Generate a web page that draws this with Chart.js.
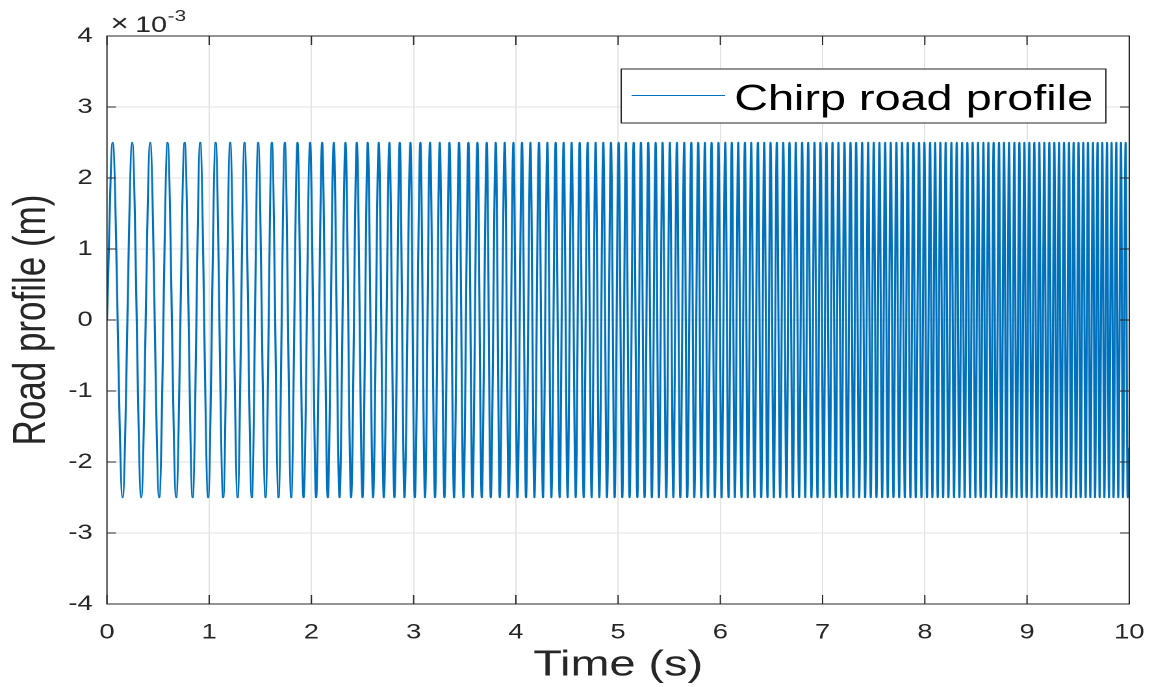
<!DOCTYPE html>
<html>
<head>
<meta charset="utf-8">
<script src="https://cdn.jsdelivr.net/npm/chart.js@4/dist/chart.umd.min.js"></script>
<style>
  html, body { margin: 0; padding: 0; background: #fff; overflow: hidden; }
  /* the figure is horizontally stretched, so draw narrow and scale it out */
  #wrap { position: absolute; left: 0; top: 0; width: 888px; height: 687px;
          transform: scaleX(1.2995); transform-origin: 0 0; }
</style>
</head>
<body>
<div id="wrap"><canvas id="chirp" width="888" height="687" style="width:888px;height:687px"></canvas></div>
<script>
// time of each crest / trough (s)
var peakTimes = [0.056,0.247,0.423,0.593,0.760,0.912,1.063,1.205,1.346,1.479,1.613,1.740,1.864,1.987,2.105,2.219,2.333,2.444,2.551,2.659,2.763,2.864,2.969,3.066,3.160,3.255,3.350,3.444,3.536,3.624,3.715,3.803,3.891,3.976,4.060,4.142,4.226,4.308,4.389,4.467,4.545,4.624,4.702,4.780,4.855,4.930,5.005,5.076,5.152,5.223,5.295,5.367,5.435,5.506,5.575,5.647,5.716,5.784,5.849,5.914,5.982,6.048,6.112,6.175,6.240,6.302,6.367,6.429,6.491,6.552,6.615,6.676,6.738,6.800,6.859,6.921,6.979,7.038,7.097,7.155,7.214,7.273,7.328,7.387,7.446,7.501,7.556,7.612,7.667,7.722,7.778,7.833,7.889,7.944,7.996,8.052,8.101,8.152,8.204,8.260,8.312,8.365,8.416,8.468,8.521,8.573,8.622,8.673,8.726,8.775,8.824,8.876,8.925,8.974,9.022,9.071,9.120,9.169,9.218,9.267,9.313,9.362,9.411,9.456,9.504,9.550,9.596,9.645,9.690,9.736,9.782,9.827,9.873,9.919,9.964];
var troughTimes = [0.153,0.335,0.511,0.677,0.838,0.990,1.137,1.278,1.417,1.551,1.678,1.802,1.923,2.046,2.160,2.275,2.388,2.500,2.603,2.708,2.812,2.910,3.011,3.111,3.209,3.301,3.395,3.487,3.575,3.666,3.754,3.842,3.930,4.015,4.099,4.181,4.265,4.347,4.428,4.506,4.585,4.663,4.741,4.816,4.891,4.966,5.041,5.112,5.188,5.259,5.330,5.399,5.471,5.540,5.608,5.676,5.745,5.813,5.878,5.946,6.012,6.080,6.142,6.207,6.269,6.334,6.400,6.461,6.523,6.585,6.647,6.709,6.771,6.830,6.891,6.950,7.009,7.070,7.129,7.185,7.243,7.302,7.358,7.416,7.471,7.527,7.583,7.637,7.693,7.749,7.804,7.859,7.911,7.967,8.021,8.074,8.126,8.179,8.231,8.286,8.338,8.390,8.443,8.495,8.546,8.595,8.648,8.697,8.749,8.798,8.850,8.898,8.947,8.996,9.045,9.098,9.143,9.192,9.241,9.289,9.335,9.384,9.430,9.479,9.524,9.573,9.619,9.665,9.710,9.756,9.801,9.846,9.892,9.938,9.984];
var amplitude = 2.5e-3;   // m
var startValue = 0;       // at t = 0
var endValue = -1.8e-3;   // at t = 10

var xTickLabels = ['0','1','2','3','4','5','6','7','8','9','10'];
var yTickLabels = ['-4','-3','-2','-1','0','1','2','3','4'];

var seriesName = 'Chirp road profile';
var blue = '#0072BD';
var dark = '#262626';
var font = "'Liberation Sans', Arial, Helvetica, sans-serif";

// crests and troughs merged in time order
var profile = peakTimes.map(function(t){ return {x: t, y: amplitude}; })
  .concat(troughTimes.map(function(t){ return {x: t, y: -amplitude}; }))
  .sort(function(a, b){ return a.x - b.x; });
profile.unshift({x: 0, y: startValue});
profile.push({x: 10, y: endValue});

// box, inward ticks, legend and the x10^-3 factor, matlab style
var matlabAxes = {
  id: 'matlabAxes',
  afterDatasetsDraw: function(chart) {
    var ctx = chart.ctx, a = chart.chartArea;
    var xs = chart.scales.x, ys = chart.scales.y;
    ctx.save();
    ctx.strokeStyle = dark;
    ctx.lineWidth = 1;
    ctx.strokeRect(a.left, a.top, a.right - a.left, a.bottom - a.top);
    ctx.beginPath();
    xs.ticks.forEach(function(t){
      var px = xs.getPixelForValue(t.value);
      ctx.moveTo(px, a.bottom); ctx.lineTo(px, a.bottom - 9);
      ctx.moveTo(px, a.top); ctx.lineTo(px, a.top + 9);
    });
    ys.ticks.forEach(function(t){
      var py = ys.getPixelForValue(t.value);
      ctx.moveTo(a.left, py); ctx.lineTo(a.left + 7, py);
      ctx.moveTo(a.right, py); ctx.lineTo(a.right - 7, py);
    });
    ctx.stroke();

    // legend
    ctx.fillStyle = '#fff';
    ctx.fillRect(478, 69, 373, 54);
    ctx.strokeStyle = dark;
    ctx.strokeRect(478, 69, 373, 54);
    ctx.strokeStyle = blue;
    ctx.beginPath();
    ctx.moveTo(486, 95.5); ctx.lineTo(558, 95.5);
    ctx.stroke();
    ctx.fillStyle = '#000';
    ctx.font = '36px ' + font;
    ctx.textBaseline = 'alphabetic';
    ctx.textAlign = 'left';
    ctx.fillText(seriesName, 565, 110);

    // exponent
    ctx.fillStyle = dark;
    ctx.font = '24px ' + font;
    ctx.fillText('\u00d7', 85, 31);
    ctx.font = '22px ' + font;
    ctx.fillText('10', 104, 32);
    ctx.font = '16px ' + font;
    ctx.fillText('-3', 129, 21);
    ctx.restore();
  }
};

new Chart(document.getElementById('chirp'), {
  type: 'line',
  data: {
    datasets: [{
      label: seriesName,
      data: profile,
      borderColor: blue,
      borderWidth: 1.6,
      pointRadius: 0,
      fill: false,
      cubicInterpolationMode: 'monotone'
    }]
  },
  options: {
    responsive: false,
    devicePixelRatio: 2,
    animation: false,
    layout: { padding: { top: 36, right: 19, left: 0, bottom: 0 } },
    plugins: { legend: { display: false }, tooltip: { enabled: false } },
    scales: {
      x: {
        type: 'linear',
        min: 0, max: 10,
        afterFit: function(s){ s.height = 83; s.paddingLeft = 0; s.paddingRight = 0; },
        border: { display: false },
        grid: { color: '#e3e3e3', drawTicks: false },
        ticks: {
          stepSize: 1, padding: 16, color: dark, maxRotation: 0,
          font: { family: font, size: 21 },
          callback: function(v, i){ return xTickLabels[i]; }
        },
        title: {
          display: true, text: 'Time (s)', color: dark,
          font: { family: font, size: 36 }, padding: { top: 0, bottom: 0 }
        }
      },
      y: {
        type: 'linear',
        min: -0.004, max: 0.004,
        afterFit: function(s){ s.width = 82.3; s.paddingTop = 0; s.paddingBottom = 0; },
        border: { display: false },
        grid: { color: '#e3e3e3', drawTicks: false },
        ticks: {
          stepSize: 0.001, padding: 11, color: dark,
          font: { family: font, size: 21 },
          callback: function(v, i){ return yTickLabels[i]; }
        },
        title: {
          display: true, text: 'Road profile (m)', color: dark,
          font: { family: font, size: 35 }, padding: { top: 4, bottom: 0 }
        }
      }
    }
  },
  plugins: [matlabAxes]
});
</script>
</body>
</html>
